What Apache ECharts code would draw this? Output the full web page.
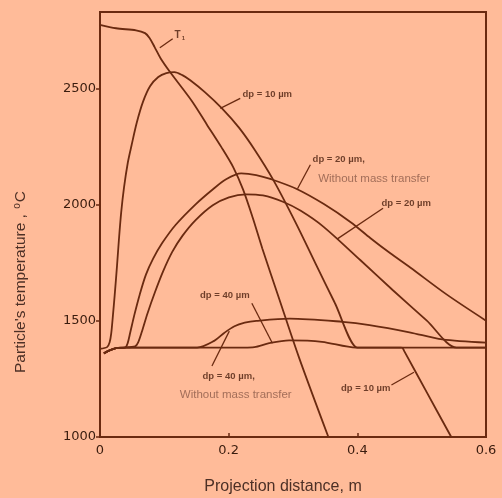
<!DOCTYPE html>
<html><head><meta charset="utf-8">
<script src="https://cdn.jsdelivr.net/npm/echarts@6/dist/echarts.min.js"></script>
<style>html,body{margin:0;padding:0;background:#FFBB99;}#c{width:502px;height:498px;}</style>
</head><body><div id="c"></div>
<script>
// ---- axis ticks ----
const xTicks = [0, 0.2, 0.4, 0.6];
const yTicks = [1000, 1500, 2000, 2500];

// ---- curves: [projection distance (m), temperature (°C)] ----
const gasTemp = [[0,2775],[0.025,2760],[0.056,2751],[0.07,2739],[0.077,2718],[0.0849,2679],[0.0941,2631],[0.108,2575],[0.143,2446],[0.166,2346],[0.1889,2247],[0.2072,2161],[0.2223,2066],[0.2373,1945],[0.2523,1812],[0.2794,1588],[0.3094,1342],[0.355,1000]];
const dp10 = [[0,1380],[0.011,1387],[0.015,1408],[0.0175,1447],[0.0201,1524],[0.0228,1610],[0.0265,1739],[0.0293,1846],[0.0329,1966],[0.0373,2074],[0.0432,2181],[0.0489,2254],[0.0571,2353],[0.0668,2443],[0.078,2511],[0.0906,2550],[0.1031,2567],[0.1156,2571],[0.128,2558],[0.1403,2536],[0.1634,2484],[0.1896,2415],[0.2157,2333],[0.2401,2238],[0.2691,2108],[0.3041,1923],[0.3345,1750],[0.3649,1578],[0.4,1385],[0.404,1385],[0.4675,1385],[0.47,1384],[0.4725,1372],[0.508,1192],[0.546,1000]];
const dp20NoMT = [[0.006,1360],[0.014,1372],[0.025,1383],[0.039,1385],[0.0429,1403],[0.047,1450],[0.0536,1528],[0.0617,1613],[0.0714,1699],[0.0826,1768],[0.0969,1836],[0.1174,1913],[0.149,2003],[0.1756,2067],[0.196,2110],[0.2195,2135],[0.2428,2128],[0.266,2110],[0.305,2069],[0.348,2003],[0.3897,1925],[0.4205,1856],[0.4513,1791],[0.4822,1730],[0.5392,1613],[0.6,1501]];
const dp20 = [[0.006,1360],[0.014,1372],[0.025,1383],[0.0359,1385],[0.0546,1390],[0.0593,1407],[0.0657,1459],[0.0738,1532],[0.0851,1621],[0.0979,1712],[0.1123,1797],[0.1281,1866],[0.1486,1934],[0.1753,1998],[0.2004,2032],[0.2269,2045],[0.2533,2040],[0.2843,2013],[0.3121,1974],[0.3476,1905],[0.4045,1762],[0.4553,1632],[0.5076,1502],[0.554,1385],[0.56,1385],[0.6,1385]];
const dp40NoMT = [[0.006,1360],[0.014,1372],[0.025,1383],[0.04,1385],[0.151,1385],[0.1775,1414],[0.193,1448],[0.209,1477],[0.225,1492],[0.243,1500],[0.295,1510],[0.377,1496],[0.419,1482],[0.481,1451],[0.532,1420],[0.6,1406]];
const dp40 = [[0.006,1360],[0.014,1372],[0.025,1383],[0.04,1385],[0.224,1385],[0.24,1387],[0.263,1404],[0.294,1416],[0.345,1410],[0.398,1385],[0.6,1385]];

// ---- annotations: text, anchor (data coords), leader line (data coords) ----
const annText = ['T{s|1}', 'dp = 10 µm', 'dp = 20 µm,', 'Without mass transfer', 'dp = 20 µm', 'dp = 40 µm', 'dp = 40 µm,', 'Without mass transfer', 'dp = 10 µm'];
const annKind = ['t', 'b', 'b', 'g', 'b', 'b', 'b', 'g', 'b'];
const annAt = [[0.124,2728],[0.26,2474],[0.371,2197],[0.426,2113],[0.476,2006],[0.194,1611],[0.2,1259],[0.211,1181],[0.413,1208]];
const leaders = [
  [[0.093,2676],[0.113,2715]],
  [[0.187,2415],[0.218,2458]],
  [[0.307,2069],[0.327,2172]],
  [[0.369,1853],[0.44,1985]],
  [[0.236,1576],[0.268,1404]],
  [[0.174,1306],[0.201,1456]],
  [[0.453,1224],[0.488,1279]]
];

const INK = '#6a2a10';
const chart = echarts.init(document.getElementById('c'), null, {renderer: 'canvas'});

const curveSeries = [gasTemp, dp10, dp20NoMT, dp20, dp40NoMT, dp40].map(d => ({
  type: 'line', data: d, showSymbol: false, smooth: 0.3,
  lineStyle: {color: INK, width: 1.8}, silent: true, z: 3
}));
const leaderSeries = leaders.map(d => ({
  type: 'line', data: d, showSymbol: false,
  lineStyle: {color: INK, width: 1.3}, silent: true, z: 3
}));
const styleFor = {
  b: {fontFamily: 'Liberation Sans', fontWeight: 'bold', fontSize: 9.5, color: '#4a1e0c'},
  g: {fontFamily: 'Liberation Sans', fontSize: 11.5, color: '#8b5a48'},
  t: {fontFamily: 'Liberation Sans', fontWeight: 'bold', fontSize: 10, color: '#4a1e0c',
      rich: {s: {fontFamily: 'Liberation Sans', fontWeight: 'bold', fontSize: 6, color: '#4a1e0c', padding: [6, 0, 0, 1]}}}
};
const textSeries = {
  type: 'scatter', symbolSize: 0, silent: true, z: 5,
  data: annAt.map((p, i) => ({
    value: p,
    label: Object.assign({show: true, position: 'inside', formatter: annText[i]}, styleFor[annKind[i]])
  }))
};

chart.setOption({
  animation: false,
  backgroundColor: '#FFBB99',
  grid: {left: 100, right: 16, top: 12, bottom: 61, show: true, borderColor: INK, borderWidth: 2, backgroundColor: 'transparent'},
  xAxis: {
    type: 'value', min: 0, max: 0.6, interval: 0.2,
    axisLine: {lineStyle: {color: INK, width: 2}},
    axisTick: {inside: true, length: 4, customValues: xTicks, lineStyle: {color: INK, width: 1.5}},
    axisLabel: {customValues: xTicks, margin: 7, fontFamily: 'DejaVu Sans', fontSize: 13, color: '#3a1c0e',
      formatter: v => v === 0 ? '0' : v.toFixed(1)},
    splitLine: {show: false}
  },
  yAxis: {
    type: 'value', min: 1000, max: 2830, interval: 500,
    axisLine: {show: true, lineStyle: {color: INK, width: 2}},
    axisTick: {show: true, inside: false, length: 4, customValues: yTicks, lineStyle: {color: INK, width: 1.5}},
    axisLabel: {customValues: yTicks, margin: 4, fontFamily: 'DejaVu Sans', fontSize: 13, color: '#3a1c0e',
      formatter: v => (v % 500 === 0 ? String(v) : '')},
    splitLine: {show: false}
  },
  graphic: [
    {type: 'text', x: 283, y: 487, style: {text: 'Projection distance, m', fontFamily: 'Liberation Sans', fontSize: 16, fill: '#4d3026', align: 'center', verticalAlign: 'middle'}},
    {type: 'text', x: 21, y: 282, rotation: Math.PI / 2,
     style: {text: "Particle's temperature , {s|o}C", fontFamily: 'Liberation Sans', fontSize: 15.5, fill: '#4d3026', align: 'center', verticalAlign: 'middle',
       rich: {s: {fontFamily: 'Liberation Sans', fontSize: 10, fill: '#4d3026', padding: [0, 1, 8, 1]}}}}
  ],
  series: curveSeries.concat(leaderSeries, [textSeries])
});
</script></body></html>
